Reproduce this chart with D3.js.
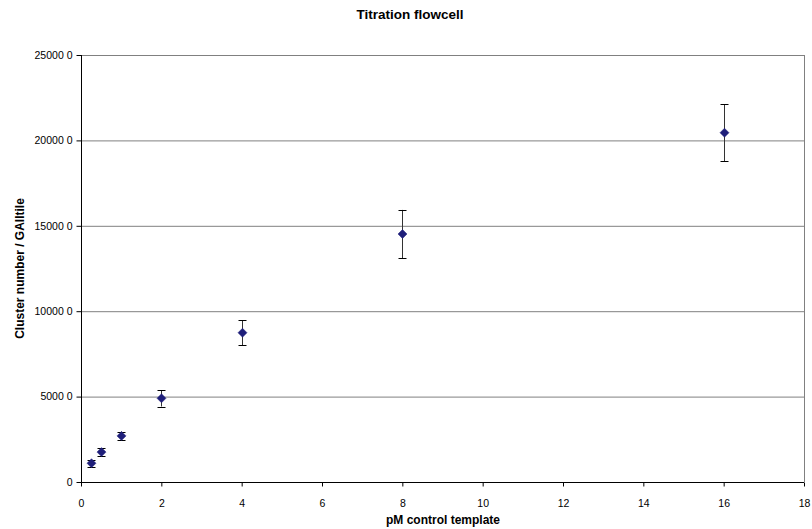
<!DOCTYPE html>
<html><head><meta charset="utf-8">
<script src="https://cdn.jsdelivr.net/npm/d3@7"></script>
<style>body{margin:0;background:#fff}svg{display:block}text{font-family:"Liberation Sans",Arial,sans-serif}</style>
</head><body><svg id="c" width="812" height="529"></svg>
<script>
const xValues = [0.25, 0.5, 1, 2, 4, 8, 16];
const yValues = [1100, 1750, 2700, 4900, 8740, 14520, 20450];
const yErrors = [200, 220, 250, 480, 720, 1410, 1680];
const xTicks = [0, 2, 4, 6, 8, 10, 12, 14, 16, 18];
const yTicks = [0, 5000, 10000, 15000, 20000, 25000];
const yTickLabels = ["0", "5000 0", "10000 0", "15000 0", "20000 0", "25000 0"];
const title = "Titration flowcell";
const xTitle = "pM control template";
const yTitle = "Cluster number / GAIItile";

const svg = d3.select("#c");
const L = 81, R = 804, T = 55, B = 482;
const x = d3.scaleLinear().domain([0, 18]).range([L, R]);
const y = d3.scaleLinear().domain([0, 25000]).range([B, T]);

// gridlines
svg.append("g").selectAll("line").data(yTicks.filter(d => d > 0)).join("line")
  .attr("x1", L).attr("x2", R).attr("y1", d => y(d) + 0.5).attr("y2", d => y(d) + 0.5)
  .attr("stroke", "#808080").attr("stroke-width", 1);
// right border
svg.append("line").attr("x1", R + 0.5).attr("x2", R + 0.5).attr("y1", T).attr("y2", B)
  .attr("stroke", "#808080");

// axes
const xAxis = d3.axisBottom(x).tickValues(xTicks).tickSize(4).tickPadding(13).tickFormat(d3.format("d"));
const gx = svg.append("g").attr("transform", `translate(0,${B + 0.5})`).call(xAxis);
gx.select(".domain").attr("stroke", "#000").attr("d", `M${L},0H${R}`);
gx.selectAll(".tick line").attr("stroke", "#000");
gx.selectAll(".tick text").attr("font-size", 10.5).attr("fill", "#000")
  .attr("font-family", '"Liberation Sans",Arial,sans-serif');

const yAxis = d3.axisLeft(y).tickValues(yTicks).tickSize(5).tickPadding(4)
  .tickFormat((d, i) => yTickLabels[i]);
const gy = svg.append("g").attr("transform", `translate(${L + 0.5},0)`).call(yAxis);
gy.select(".domain").attr("stroke", "#000").attr("d", `M0,${T}V${B}`);
gy.selectAll(".tick line").attr("stroke", "#000");
gy.selectAll(".tick text").attr("font-size", 10.5).attr("fill", "#000")
  .attr("font-family", '"Liberation Sans",Arial,sans-serif');

// error bars
const data = xValues.map((v, i) => ({x: v, y: yValues[i], e: yErrors[i]}));
const eb = svg.append("g").attr("stroke", "#000").attr("stroke-width", 1);
data.forEach(d => {
  const cx = Math.round(x(d.x)) + 0.5;
  eb.append("line").attr("x1", cx).attr("x2", cx).attr("y1", y(d.y + d.e)).attr("y2", y(d.y - d.e)).attr("stroke", "#333");
  [d.y + d.e, d.y - d.e].forEach(v => {
    eb.append("line").attr("x1", cx - 4).attr("x2", cx + 4).attr("y1", Math.round(y(v)) + 0.5).attr("y2", Math.round(y(v)) + 0.5);
  });
});

// markers
svg.append("g").selectAll("path").data(data).join("path")
  .attr("transform", d => `translate(${Math.round(x(d.x)) + 0.5},${y(d.y)})`)
  .attr("d", "M0,-4.5L4.5,0L0,4.5L-4.5,0Z")
  .attr("fill", "#1f1f7a").attr("stroke", "#1f1f7a").attr("stroke-width", 0.5);

// titles
svg.append("text").attr("x", 410).attr("y", 19).attr("text-anchor", "middle")
  .attr("font-size", 13.5).attr("font-weight", "bold").text(title);
svg.append("text").attr("x", 443).attr("y", 524).attr("text-anchor", "middle")
  .attr("font-size", 12).attr("font-weight", "bold").text(xTitle);
svg.append("text").attr("transform", `translate(24,${(T + B) / 2}) rotate(-90)`).attr("text-anchor", "middle")
  .attr("font-size", 12).attr("font-weight", "bold").text(yTitle);
</script></body></html>
